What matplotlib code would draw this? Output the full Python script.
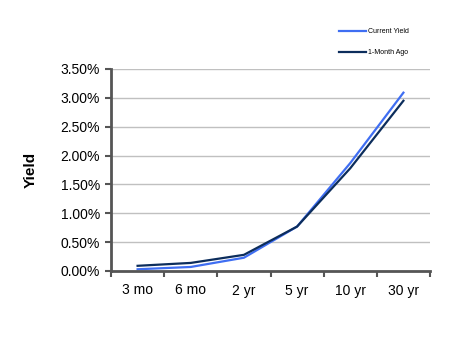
import matplotlib
matplotlib.use('Agg')
import matplotlib.pyplot as plt
from matplotlib.ticker import FuncFormatter, FixedLocator

plt.rcParams['font.family'] = ['Liberation Sans', 'DejaVu Sans']

maturities = ['3 mo', '6 mo', '2 yr', '5 yr', '10 yr', '30 yr']
current_yield = [0.03, 0.07, 0.23, 0.77, 1.87, 3.09]
month_ago = [0.09, 0.14, 0.28, 0.77, 1.78, 2.95]

fig = plt.figure(figsize=(4.67, 3.41), dpi=100)
ax = fig.add_axes([111 / 467, 1 - 271 / 341, 319 / 467, 202 / 341])

x = range(len(maturities))
ax.plot(x, current_yield, color='#3f6ef2', lw=1.6, label='Current Yield')
ax.plot(x, month_ago, color='#0c2d5c', lw=1.6, label='1-Month Ago')

ax.set_xlim(-0.5, len(maturities) - 0.5)
ax.set_ylim(0, 3.5)
ax.set_yticks([i * 0.5 for i in range(8)])
ax.yaxis.set_major_formatter(FuncFormatter(lambda v, p: f'{v:.2f}%'))
ax.grid(axis='y', color='#c0c0c0', lw=1)
ax.set_axisbelow(True)

ax.set_xticks(list(x))
ax.set_xticklabels(maturities)
ax.xaxis.set_minor_locator(FixedLocator([i - 0.5 for i in range(len(maturities) + 1)]))
ax.tick_params(axis='x', which='major', length=0, pad=9, labelsize=10)
ax.tick_params(axis='x', which='minor', length=4, width=1.5, color='#555555', direction='out')
ax.tick_params(axis='y', length=4, width=1.5, color='#555555', labelsize=10, pad=4)

for s in ['top', 'right']:
    ax.spines[s].set_visible(False)
for s in ['left', 'bottom']:
    ax.spines[s].set_color('#555555')
    ax.spines[s].set_linewidth(2)

ax.set_ylabel('Yield', fontsize=11, fontweight='bold', labelpad=16)

ax.legend(loc='upper left', bbox_to_anchor=(333 / 467, 1 - 22 / 341),
          bbox_transform=fig.transFigure, frameon=False, fontsize=5,
          labelspacing=2.0, handlelength=3.8, handletextpad=0.4)

plt.savefig('out.png', dpi=100)
